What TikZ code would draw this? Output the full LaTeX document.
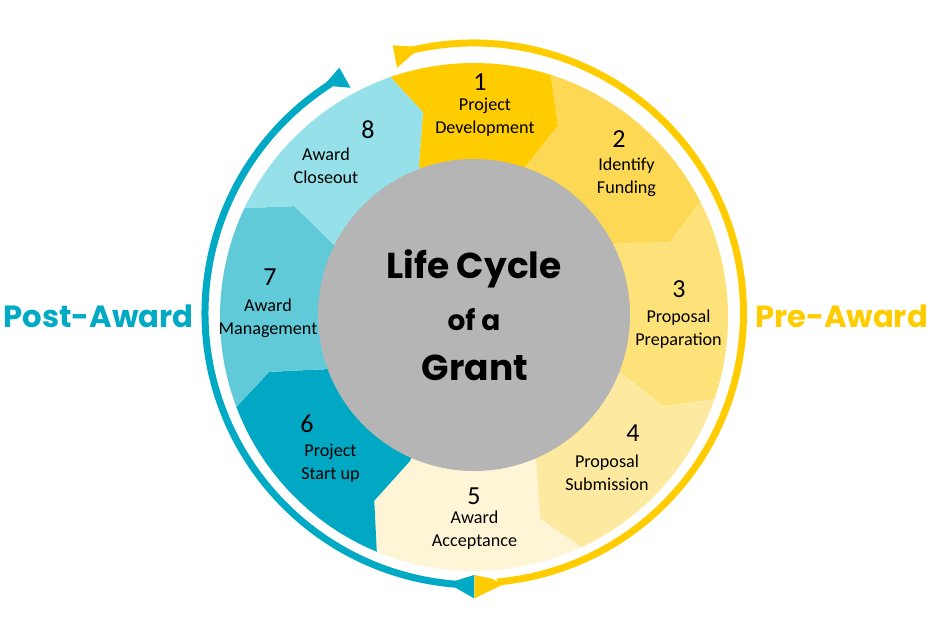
\documentclass[tikz,border=0pt]{standalone}
\usepackage{fontspec}
\setmainfont{Carlito}
\newfontfamily\roundfont{Poppins}
\definecolor{sec1}{HTML}{FFCC00}
\definecolor{sec2}{HTML}{FCD854}
\definecolor{sec3}{HTML}{FDE27A}
\definecolor{sec4}{HTML}{FDE9A0}
\definecolor{sec5}{HTML}{FEF5D6}
\definecolor{sec6}{HTML}{00A8C4}
\definecolor{sec7}{HTML}{60CAD8}
\definecolor{sec8}{HTML}{95E0E9}
\definecolor{core}{HTML}{B5B5B5}
\definecolor{preyellow}{HTML}{FFCC00}
\definecolor{postteal}{HTML}{00A9C4}
\begin{document}
\begin{tikzpicture}[x=0.75pt,y=0.75pt,
    num/.style={font=\fontsize{19.5}{20}\selectfont,inner sep=0pt},
    lbl/.style={font=\fontsize{13.6}{17.25}\selectfont,align=center,inner sep=0pt},
    side/.style={font=\roundfont\bfseries\fontsize{23}{23}\selectfont,anchor=base,inner sep=0pt},
    headline/.style={font=\roundfont\bfseries\fontsize{#1}{#1}\selectfont,anchor=base,inner sep=0pt}]
    \useasboundingbox (-474,-316) rectangle (475,317);
    % borders between the sectors: outer, kink, inner
    \foreach \n/\ao/\ak/\rk/\ai/\ri in {8/109.2/104/211/110/161, 1/72.4/66.3/209/71/160,
        2/27.1/20.9/210/27.4/159, 3/-18.9/-25.2/209/-21/159, 4/-65/-71.9/212/-66.7/157,
        5/-112.5/-118.5/209/-114/158, 6/-159.3/-165/212/-160.6/157, 7/154.6/148.3/211/152.6/159}{
        \coordinate (o\n) at (\ao:254);
        \coordinate (f\n) at (\ao:330);
        \coordinate (k\n) at (\ak:\rk);
        \coordinate (i\n) at (\ai:\ri);
    }
    \begin{scope}
        \clip (0,0) circle (254);
        \foreach \p/\c in {8/1,1/2,2/3,3/4,4/5,5/6,6/7,7/8}
            \fill[sec\c] (0,0) -- (i\p) -- (k\p) -- (o\p) -- (f\p) -- (f\c) -- (o\c) -- (k\c) -- (i\c) -- cycle;
    \end{scope}
    \fill[core] (0,2) circle (156);
    % pre-award ring
    \begin{scope}[shift={(-0.5,4)}]
        \draw[preyellow,line width=5.25pt] (103.5:270) arc[start angle=103.5,end angle=-85,radius=270];
        \fill[preyellow] (103:273.5) -- (106.8:279.6) -- (107.3:256.9) -- (103:266.5) -- cycle;
        \fill[preyellow] (-85.9:266.5) -- (-89.8:262) -- (-89.8:285.3) -- (-84:273.5) -- cycle;
    \end{scope}
    % post-award ring
    \begin{scope}[shift={(3,4)}]
        \draw[postteal,line width=5.25pt] (-94:272) arc[start angle=-94,end angle=-237.5,radius=272];
        \fill[postteal] (122.4:268.5) -- (119.3:258.3) -- (119.3:281.3) -- (123.1:275.5) -- cycle;
        \fill[postteal] (-94.5:268.5) -- (-90.6:262) -- (-90.6:285.3) -- (-94.5:275.5) -- cycle;
    \end{scope}
    \node[side,postteal] (post) at (-375.5,-10) {Post-Award};
    \node[side,preyellow] (pre) at (367.5,-10) {Pre-Award};
    \node[headline=27] (life) at (0,39) {Life Cycle};
    \node[headline=21] (ofa) at (0,-13) {of a};
    \node[headline=27] (grant) at (1,-63) {Grant};
    \node[num] (n1) at (6,235) {1};
    \node[lbl] (t1) at (11,200) {Project\\Development};
    \node[num] (n2) at (145,178) {2};
    \node[lbl] (t2) at (152.5,140) {Identify\\Funding};
    \node[num] (n3) at (205,28) {3};
    \node[lbl] (t3) at (204.5,-12.5) {Proposal\\Preparation};
    \node[num] (n4) at (159,-116) {4};
    \node[lbl] (t4) at (133,-155.5) {Proposal\\Submission};
    \node[num] (n5) at (0,-179) {5};
    \node[lbl] (t5) at (0.5,-213.5) {Award\\Acceptance};
    \node[num] (n6) at (-167,-107) {6};
    \node[lbl] (t6) at (-143.5,-146) {Project\\Start up};
    \node[num] (n7) at (-204,40) {7};
    \node[lbl] (t7) at (-206,-1.5) {Award\\Management};
    \node[num] (n8) at (-106,187) {8};
    \node[lbl] (t8) at (-148,151.5) {Award\\Closeout};
\end{tikzpicture}
\end{document}
